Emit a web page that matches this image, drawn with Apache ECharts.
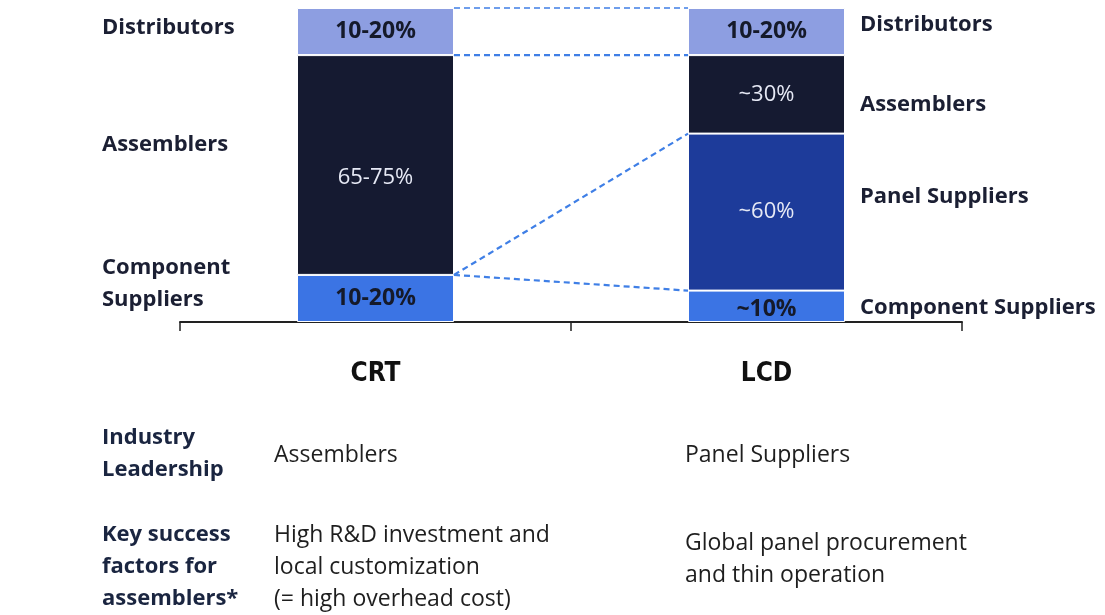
<!DOCTYPE html>
<html>
<head>
<meta charset="utf-8">
<title>CRT vs LCD value chain</title>
<script src="https://cdn.jsdelivr.net/npm/echarts@6/dist/echarts.min.js"></script>
<style>
  html, body { margin: 0; padding: 0; background: #fff; }
  #chart { width: 1105px; height: 615px; }
</style>
</head>
<body>
<div id="chart"></div>
<script>
// Value-chain share of each industry stage (percent of total, bottom to top)
const categories = ['CRT', 'LCD'];
const stages = ['Component Suppliers', 'Panel Suppliers', 'Assemblers', 'Distributors'];
const componentShare = [15, 10];
const panelShare = [null, 50];
const assemblerShare = [70, 25];
const distributorShare = [15, 15];

// Text printed inside each segment
const componentText = ['10-20%', '~10%'];
const panelText = ['', '~60%'];
const assemblerText = ['65-75%', '~30%'];
const distributorText = ['10-20%', '10-20%'];

// Stage names beside each bar
const crtSideLabels = ['Distributors', 'Assemblers', 'Component\nSuppliers'];
const lcdSideLabels = ['Distributors', 'Assemblers', 'Panel Suppliers', 'Component Suppliers'];

// Comparison rows under the chart
const rowHeads = ['Industry\nLeadership', 'Key success\nfactors for\nassemblers*'];
const crtRow = ['Assemblers', 'High R&D investment and\nlocal customization\n(= high overhead cost)'];
const lcdRow = ['Panel Suppliers', 'Global panel procurement\nand thin operation'];

const FONT = '"Open Sans", "Noto Sans", sans-serif';
const INK = '#1b1f33';
const BAR_W = 157;

const colors = {
  'Component Suppliers': '#3b74e4',
  'Panel Suppliers': '#1d3b9a',
  'Assemblers': '#151a31',
  'Distributors': '#8d9ee1'
};

const values = {
  'Component Suppliers': componentShare,
  'Panel Suppliers': panelShare,
  'Assemblers': assemblerShare,
  'Distributors': distributorShare
};
const texts = {
  'Component Suppliers': componentText,
  'Panel Suppliers': panelText,
  'Assemblers': assemblerText,
  'Distributors': distributorText
};
const lightText = { 'Panel Suppliers': true, 'Assemblers': true };

// cumulative tops of the stacked segments
function cumulative(idx, upto) {
  let s = 0;
  for (let k = 0; k <= upto; k++) s += values[stages[k]][idx] || 0;
  return s;
}

// dashed connectors: [CRT level, LCD level]
const connectors = [
  [cumulative(0, 3), cumulative(1, 3)],
  [cumulative(0, 2), cumulative(1, 2)],
  [cumulative(0, 0), cumulative(1, 1)],
  [cumulative(0, 0), cumulative(1, 0)]
];

const barSeries = stages.map(name => ({
  name: name,
  type: 'bar',
  stack: 'chain',
  barWidth: BAR_W,
  data: values[name].map((v, i) => {
    const item = { value: v };
    if (name === 'Assemblers' && i === 0) item.label = { offset: [0, 13] };
    if (name === 'Component Suppliers' && i === 1) item.label = { offset: [0, 3] };
    return item;
  }),
  itemStyle: { color: colors[name], borderColor: '#ffffff', borderWidth: 1 },
  label: {
    show: true,
    position: 'inside',
    formatter: p => texts[name][p.dataIndex],
    fontFamily: FONT,
    fontSize: lightText[name] ? 22 : 23,
    fontWeight: lightText[name] ? 'normal' : 'bold',
    color: lightText[name] ? '#e6e9f5' : '#151a2a'
  },
  silent: true,
  z: 2
}));

const connectorSeries = {
  type: 'custom',
  data: connectors,
  renderItem: (params, api) => {
    const a = api.coord([0, api.value(0)]);
    const b = api.coord([1, api.value(1)]);
    return {
      type: 'line',
      shape: { x1: a[0] + BAR_W / 2, y1: a[1], x2: b[0] - BAR_W / 2, y2: b[1] },
      style: { stroke: '#3f7fe6', lineWidth: params.dataIndex === 0 ? 1.5 : 2.2, lineDash: [6, 4] }
    };
  },
  encode: { x: 0, y: 1 },
  silent: true,
  z: 3
};

// text elements around the chart
const graphics = [];
function addText(x, y, text, opts) {
  graphics.push({
    type: 'text', left: x, top: y,
    style: Object.assign({
      text: text, fontFamily: FONT, fontSize: 22, fill: INK, lineHeight: 32
    }, opts || {})
  });
}
const crtSideTop = [12, 129, 252];
crtSideLabels.forEach((t, i) => addText(102, crtSideTop[i], t, { fontWeight: 'bold' }));
const lcdSideTop = [9, 89, 181, 292];
lcdSideLabels.forEach((t, i) => addText(860, lcdSideTop[i], t, { fontWeight: 'bold' }));

const rowTop = [422, 519];
rowHeads.forEach((t, i) => addText(102, rowTop[i], t, { fontWeight: 'bold', fill: '#1a2540' }));
const crtRowTop = [439, 519];
crtRow.forEach((t, i) => addText(274, crtRowTop[i], t, { fill: '#1e1e1e', fontSize: 23 }));
const lcdRowTop = [439, 527];
lcdRow.forEach((t, i) => addText(685, lcdRowTop[i], t, { fill: '#1e1e1e', fontSize: 23 }));

const chart = echarts.init(document.getElementById('chart'));
chart.setOption({
  animation: false,
  backgroundColor: '#ffffff',
  grid: { left: 180, right: 143, top: 8, bottom: 293 },
  xAxis: {
    type: 'category',
    data: categories,
    offset: 3,
    axisLine: { lineStyle: { color: '#222222', width: 2 } },
    axisTick: { show: true, length: 9, lineStyle: { color: '#222222', width: 1.5 } },
    axisLabel: {
      margin: 36, fontFamily: '"DejaVu Sans Condensed", "Liberation Sans Narrow", sans-serif',
      fontSize: 26, fontWeight: 'bold', color: '#111111'
    }
  },
  yAxis: { type: 'value', min: 0, max: 100, show: false },
  series: barSeries.concat([connectorSeries]),
  graphic: graphics
});
</script>
</body>
</html>
